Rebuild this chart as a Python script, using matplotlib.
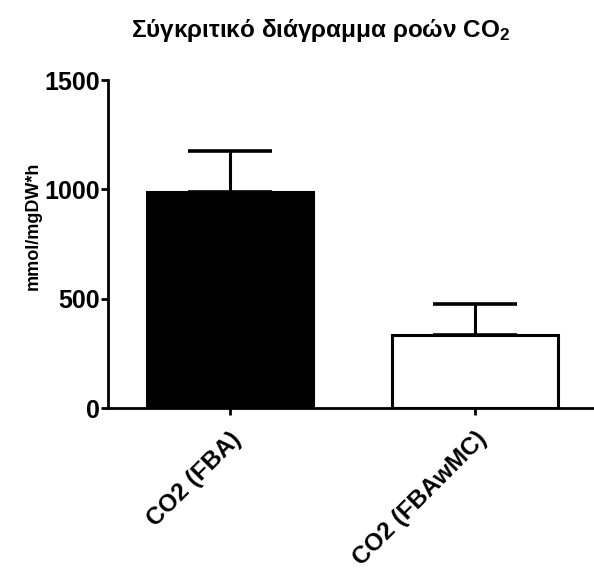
import matplotlib
matplotlib.use("Agg")
import matplotlib.pyplot as plt

plt.rcParams['font.family'] = ['Liberation Sans', 'DejaVu Sans']
plt.rcParams['font.weight'] = 'bold'
plt.rcParams['mathtext.fontset'] = 'custom'
plt.rcParams['mathtext.rm'] = 'Liberation Sans:bold'
plt.rcParams['mathtext.it'] = 'Liberation Sans:bold'
plt.rcParams['mathtext.bf'] = 'Liberation Sans:bold'

# data
categories = ['CO2 (FBA)', 'CO2 (FBAwMC)']
means = [990, 336]
errors = [187, 141]
fills = ['black', 'white']
yticks = [0, 500, 1000, 1500]

fig = plt.figure(figsize=(5.94, 5.71), dpi=100)
ax = fig.add_axes([108/594, 1 - 408/571, 1 - 108/594, 328/571])

x = list(range(len(categories)))
ax.bar(x, means, width=0.68, color=fills, edgecolor='black', linewidth=2.2, zorder=2)
ax.errorbar(x, means, yerr=[[0, 0], errors], fmt='none', ecolor='black',
            elinewidth=2.2, capsize=30, capthick=2.6, zorder=1)

ax.set_xlim(-0.498, 1.486)
ax.set_ylim(0, 1500)
ax.set_yticks(yticks)
ax.set_yticklabels([str(v) for v in yticks], fontsize=18, fontweight='bold')
ax.set_xticks(x)
ax.set_xticklabels(categories, rotation=45, ha='right', rotation_mode='anchor',
                   fontsize=17.5, fontweight='bold')
ax.set_ylabel('mmol/mgDW*h', fontsize=13, fontweight='bold')
ax.yaxis.set_label_coords(-0.136, 0.555)

for s in ['top', 'right']:
    ax.spines[s].set_visible(False)
for s in ['left', 'bottom']:
    ax.spines[s].set_linewidth(2)
ax.tick_params(axis='both', direction='out', length=5, width=2, pad=1)
ax.tick_params(axis='x', pad=9)

fig.text(0.539, 1 - 30/571, r'Σύγκριτικό διάγραμμα ροών CO$_2$', ha='center', va='center',
         fontsize=17.5, fontweight='bold')

fig.savefig('out.png', dpi=100)
